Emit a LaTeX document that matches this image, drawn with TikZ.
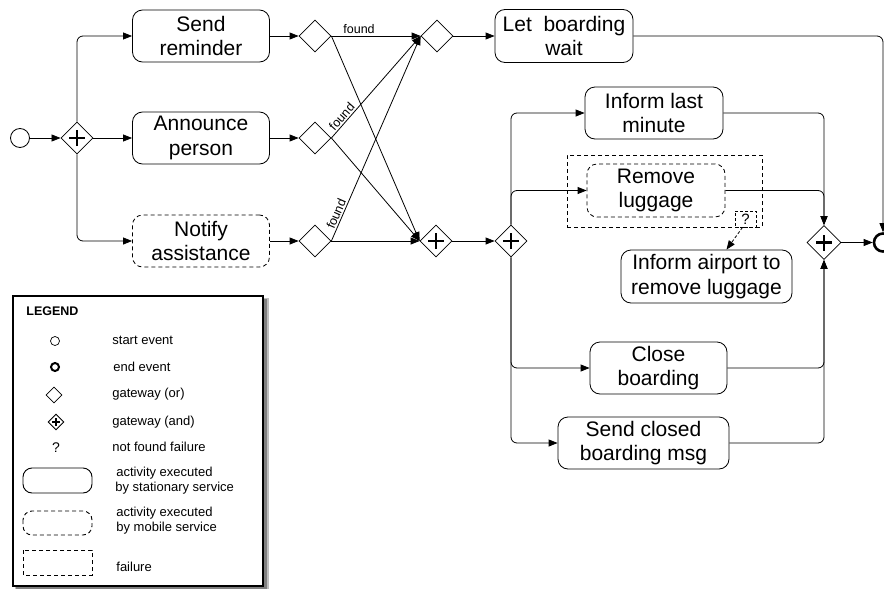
\documentclass[tikz,border=0pt]{standalone}
\usepackage{fontspec}
\setmainfont{Liberation Sans}
\usetikzlibrary{shapes.geometric,arrows.meta,calc}
\begin{document}
\begin{tikzpicture}[x=1pt,y=-1pt,
  line width=0.8pt,
  box/.style={draw, rounded corners=10pt, minimum width=137pt, minimum height=52pt, align=center, inner sep=0pt, font=\fontsize{21}{24.5}\selectfont},
  mbox/.style={box, dash pattern=on 4pt off 3pt},
  gw/.style={draw, diamond, shape aspect=1, minimum width=32pt, minimum height=32pt, inner sep=0pt},
  andgw/.style={gw, path picture={\draw[line width=2.6pt] ([xshift=-8pt]path picture bounding box.center) -- ([xshift=8pt]path picture bounding box.center) ([yshift=-8pt]path picture bounding box.center) -- ([yshift=8pt]path picture bounding box.center);}},
  arr/.style={-{Triangle[length=9pt,width=7pt]}, rounded corners=6pt},
  lbl/.style={font=\fontsize{12.5}{14}\selectfont, inner sep=1.5pt},
  leg/.style={font=\fontsize{13}{15}\selectfont, anchor=west, inner sep=0pt},
]
\useasboundingbox (0,0) rectangle (884,589);

% activities
\node[box] (send) at (201,36) {Send\\reminder};
\node[box] (ann) at (201,138) {Announce\\person};
\node[mbox] (notify) at (201,241) {Notify\\assistance};
\node[box, minimum width=138pt, minimum height=53pt] (let) at (564,36) {Let\ \ boarding\\wait};
\node[box, minimum width=138pt] (last) at (654,113) {Inform last\\minute};
\node[draw, dash pattern=on 4pt off 3pt, minimum width=195pt, minimum height=72pt, inner sep=0pt] (fail) at (664.5,191) {};
\node[mbox, minimum width=138pt, minimum height=53pt] (rem) at (656,190.5) {Remove\\luggage};
\node[draw, dash pattern=on 3pt off 2pt, minimum width=21pt, minimum height=16pt, inner sep=0pt, font=\fontsize{15}{15}\selectfont] (q) at (745.5,219) {?};
\node[box, minimum width=171pt, minimum height=53pt] (air) at (706.5,276.5) {Inform airport to\\remove luggage};
\node[box] (close) at (658.5,368) {Close\\boarding};
\node[box, minimum width=171pt] (sclosed) at (643.5,443) {Send closed\\boarding msg};

% events and gateways
\node[circle, draw, minimum size=19pt, inner sep=0pt] (start) at (20,138) {};
\node[andgw] (a1) at (77,138) {};
\node[gw] (g1) at (315,36) {};
\node[gw] (g2) at (315,138) {};
\node[gw] (g3) at (315,241) {};
\node[gw] (g4) at (437,36) {};
\node[andgw] (am) at (436,241) {};
\node[andgw] (a2) at (511,241) {};
\node[andgw, minimum width=34pt, minimum height=34pt] (a3) at (824,242.5) {};
\node[circle, draw, line width=2.6pt, minimum size=18pt, inner sep=0pt] (end) at (883,242.5) {};

% connectors
\draw[arr] (start) -- (a1);
\draw[arr] (a1.north) |- (send.west);
\draw[arr] (a1.east) -- (ann.west);
\draw[arr] (a1.south) |- (notify.west);
\draw[arr] (send.east) -- (g1.west);
\draw[arr] (ann.east) -- (g2.west);
\draw[arr] (notify.east) -- (g3.west);
\draw[arr] (g1.east) -- node[lbl, pos=0.31, above] {found} (g4.west);
\draw[arr] (g1.east) -- (am.west);
\draw[arr] (g2.east) -- node[lbl, pos=0.17, above, sloped] {found} (g4.west);
\draw[arr] (g2.east) -- (am.west);
\draw[arr] (g3.east) -- node[lbl, pos=0.12, above, sloped] {found} (g4.west);
\draw[arr] (g3.east) -- (am.west);
\draw[arr] (g4.east) -- (let.west);
\draw[arr] (am.east) -- (a2.west);
\draw[arr] (a2.north) |- (last.west);
\draw[arr] (a2.north) |- (rem.west);
\draw[arr] (a2.south) |- (close.west);
\draw[arr] (a2.south) |- (sclosed.west);
\draw[arr] (last.east) -| (a3.north);
\draw[arr] (rem.east) -| (a3.north);
\draw[arr] (close.east) -| (a3.south);
\draw[arr] (sclosed.east) -| (a3.south);
\draw[arr] (a3.east) -- (end.west);
\draw[arr] (let.east) -| (end.north);
\draw[arr, dash pattern=on 3pt off 2pt] ([xshift=-3pt]q.south) -- ([xshift=20pt]air.north);

% legend
\fill[black!25] (15,298) rectangle (269,590);
\fill[black!50] (16,299) rectangle (267,589);
\draw[fill=white, line width=1.2pt] (13,296) rectangle (263,586);
\node[font=\bfseries\fontsize{12.5}{14}\selectfont, anchor=west, inner sep=0pt] (lt) at (26,311) {LEGEND};
\node[circle, draw, minimum size=9pt, inner sep=0pt, line width=0.7pt] (ls) at (55,341) {};
\node[leg] (lst) at (112,340) {start event};
\node[circle, draw, minimum size=8pt, inner sep=0pt, line width=2pt] (le) at (55,367) {};
\node[leg] (let2) at (113,367) {end event};
\node[draw, diamond, shape aspect=1, minimum width=16pt, minimum height=16pt, inner sep=0pt, line width=0.7pt] (lo) at (54,395) {};
\node[leg] (lot) at (112,394) {gateway (or)};
\node[draw, diamond, shape aspect=1, minimum width=16pt, minimum height=16pt, inner sep=0pt, line width=0.9pt,
  path picture={\draw[line width=1.6pt] ([xshift=-4pt]path picture bounding box.center) -- ([xshift=4pt]path picture bounding box.center) ([yshift=-4pt]path picture bounding box.center) -- ([yshift=4pt]path picture bounding box.center);}] (la) at (56,422) {};
\node[leg] (lat) at (112,422) {gateway (and)};
\node[font=\fontsize{14}{14}\selectfont, inner sep=0pt] (lq) at (56,448) {?};
\node[leg] (lqt) at (112,447) {not found failure};
\draw[line width=0.9pt, rounded corners=9pt] (23,468) rectangle (92,493);
\node[leg] (lb1) at (116,473) {activity executed};
\node[leg] (lb2) at (115,488.5) {by stationary service};
\draw[line width=0.9pt, rounded corners=9pt, dash pattern=on 4pt off 3pt] (23,511) rectangle (92,535);
\node[leg] (lm1) at (116,513) {activity executed};
\node[leg] (lm2) at (116,528.5) {by mobile service};
\draw[line width=0.9pt, dash pattern=on 4pt off 3pt] (23,550) rectangle (92,575);
\node[leg] (lft) at (116,567) {failure};
\end{tikzpicture}
\end{document}
